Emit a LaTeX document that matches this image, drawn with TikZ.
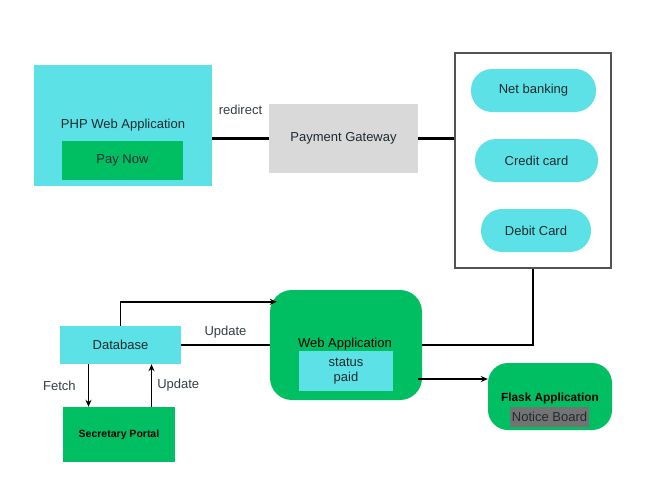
\documentclass[tikz,border=0pt]{standalone}
\usepackage{fontspec}
\setmainfont{Liberation Sans}
\usetikzlibrary{arrows.meta}

\definecolor{appcyan}{HTML}{5CE1E6}
\definecolor{appgreen}{HTML}{00BF63}
\definecolor{gatewaygray}{HTML}{D9D9D9}
\definecolor{boardgray}{HTML}{737373}
\definecolor{framegray}{HTML}{545454}
\definecolor{txtdark}{HTML}{1E2B30}

\tikzset{
  box/.style={inner sep=0pt,align=center,text=txtdark},
  cyanbox/.style={box,fill=appcyan},
  greenbox/.style={box,fill=appgreen},
  pill/.style={cyanbox,minimum height=43pt,rounded corners=21pt},
  link/.style={line width=2.3pt},
  flow/.style={line width=1.6pt,-{Stealth[length=7pt,width=6pt]}},
  lbl/.style={inner sep=0pt,text=txtdark!90}
}

\begin{document}
\begin{tikzpicture}[x=1pt,y=-1pt,font=\fontsize{13}{15.5}\selectfont]
  \useasboundingbox[fill=white] (0,0) rectangle (669,488);

  % payment side
  \node[cyanbox,minimum width=178pt,minimum height=121pt] (php) at (123,125.5) {};
  \node[box] (phptxt) at (123,125) {PHP Web Application};
  \node[greenbox,minimum width=121pt,minimum height=39pt] (pay) at (122.5,160.5) {Pay Now};
  \node[box,fill=gatewaygray,minimum width=149pt,minimum height=69pt] (gw) at (343.5,138.5) {Payment Gateway};
  \node[draw=framegray,line width=2.3pt,minimum width=156pt,minimum height=215pt,inner sep=0pt] (modes) at (533,160.5) {};
  \node[pill,minimum width=125pt] (net) at (533.5,90.5) {Net banking};
  \node[pill,minimum width=123pt] (credit) at (536.5,160.5) {Credit card};
  \node[pill,minimum width=110pt] (debit) at (536,230.5) {Debit Card};

  % status side
  \node[greenbox,minimum width=152pt,minimum height=110pt,rounded corners=22pt] (web) at (346,345) {};
  \node[box,text=black] (webtxt) at (345,344) {Web Application};
  \node[cyanbox,minimum width=94pt,minimum height=40pt] (status) at (346,371) {status\\paid};
  \node[greenbox,minimum width=124pt,minimum height=67pt,rounded corners=20pt] (flask) at (550,396.5) {};
  \node[box,text=black,font=\fontsize{11.8}{14}\selectfont\bfseries] (flasktxt) at (550,398) {Flask Application};
  \node[box,fill=boardgray,minimum width=79pt,minimum height=20pt] (board) at (549.5,417) {Notice Board};
  \node[cyanbox,minimum width=121pt,minimum height=38pt] (db) at (120.5,345) {Database};
  \node[greenbox,text=black,minimum width=112pt,minimum height=55pt,font=\fontsize{10.5}{12}\selectfont\bfseries] (sec) at (119,434.5) {Secretary Portal};

  % connectors
  \draw[link] (gw.west -| php.east) -- (gw.west) node[lbl,pos=0.5,above=23pt] {redirect};
  \draw[link] (gw.east) -- (gw.east -| modes.west);
  \draw[link] (modes.south) |- (web.east);
  \draw[link] (db.east) -- (db.east -| web.west) node[lbl,midway,above=6pt] {Update};
  \draw[flow] (db.north) |- ([xshift=7pt,yshift=-12pt]web.north west);
  \draw[flow] ([xshift=-4pt,yshift=-34pt]web.east) coordinate (wf) -- (wf -| flask.west);
  \draw[flow] ([xshift=-32pt]db.south) -- ([xshift=-32pt]db.south |- sec.north) node[lbl,midway,left=12pt] {Fetch};
  \draw[flow] ([xshift=31pt]db.south |- sec.north) -- ([xshift=31pt]db.south) node[lbl,midway,right=5pt] {Update};
\end{tikzpicture}
\end{document}
